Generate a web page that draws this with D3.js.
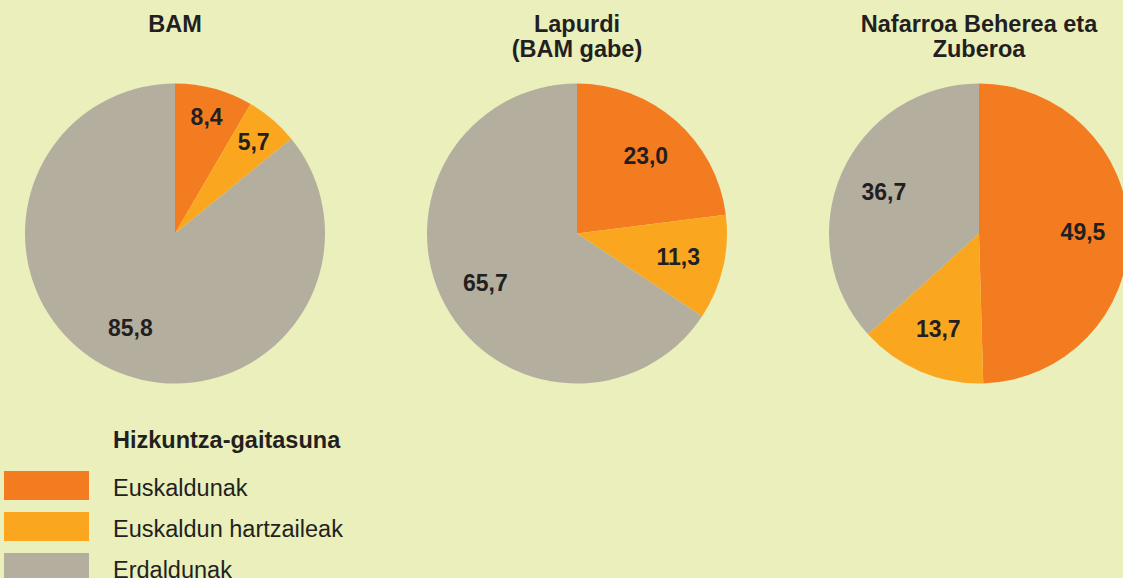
<!DOCTYPE html>
<html>
<head>
<meta charset="utf-8">
<script src="https://cdn.jsdelivr.net/npm/d3@7"></script>
<style>
  html, body { margin: 0; padding: 0; background: #EAEFBB; }
  svg { display: block; }
  text { font-family: "Liberation Sans", Arial, Helvetica, sans-serif; fill: #231F20; }
</style>
</head>
<body>
<svg id="chart" width="1123" height="578"></svg>
<script>
// Language ability by territory (%)
const categories = ["Euskaldunak", "Euskaldun hartzaileak", "Erdaldunak"];
const regionTitles = [["BAM"], ["Lapurdi", "(BAM gabe)"], ["Nafarroa Beherea eta", "Zuberoa"]];
const bamValues = [8.4, 5.7, 85.8];
const lapurdiValues = [23.0, 11.3, 65.7];
const nafarroaValues = [49.5, 13.7, 36.7];
const legendTitle = "Hizkuntza-gaitasuna";
const colors = ["#F47C20", "#FAA71F", "#B4AE9F"];

const series = [bamValues, lapurdiValues, nafarroaValues];

const W = 1123, H = 578;
const svg = d3.select("#chart");

const radius = 150;
const cy = 233.5;
const xPos = d3.scalePoint().domain(d3.range(series.length)).range([175, 979]);
const color = d3.scaleOrdinal().domain(categories).range(colors);

const pie = d3.pie().sort(null).value(d => d.value);
const arc = d3.arc().innerRadius(0).outerRadius(radius);
const fmt = v => d3.format(".1f")(v).replace(".", ",");

series.forEach((vals, i) => {
  const cx = xPos(i);
  const g = svg.append("g").attr("transform", `translate(${cx},${cy})`);
  const data = vals.map((v, k) => ({ cat: categories[k], value: v }));
  const arcs = pie(data);

  g.selectAll("path").data(arcs).join("path")
    .attr("d", arc)
    .attr("fill", d => color(d.data.cat));

  // Value labels: thin slices sit closer to the rim
  g.selectAll("text.val").data(arcs).join("text")
    .attr("class", "val")
    .attr("transform", d => {
      const r = d.data.value < 10 ? 121 : 104;
      const c = d3.arc().innerRadius(r).outerRadius(r).centroid(d);
      return `translate(${c[0]},${c[1]})`;
    })
    .attr("text-anchor", "middle")
    .attr("dy", "0.36em")
    .style("font-weight", "bold")
    .style("font-size", "23px")
    .text(d => fmt(d.data.value));

  // Title above each pie
  const t = svg.append("text")
    .attr("x", cx).attr("y", 32)
    .attr("text-anchor", "middle")
    .style("font-weight", "bold")
    .style("font-size", "23.5px");
  regionTitles[i].forEach((line, j) => {
    t.append("tspan").attr("x", cx).attr("dy", j === 0 ? 0 : 25).text(line);
  });
});

// Legend
const legend = svg.append("g");
legend.append("text")
  .attr("x", 113).attr("y", 448)
  .style("font-weight", "bold")
  .style("font-size", "23.5px")
  .text(legendTitle);

const rows = legend.selectAll("g.item").data(categories).join("g")
  .attr("class", "item")
  .attr("transform", (d, i) => `translate(0,${471 + i * 41})`);
rows.append("rect")
  .attr("x", 4).attr("y", 0)
  .attr("width", 85).attr("height", 29)
  .attr("fill", d => color(d));
rows.append("text")
  .attr("x", 113).attr("y", 24.5)
  .style("font-size", "23.5px")
  .text(d => d);
</script>
</body>
</html>
